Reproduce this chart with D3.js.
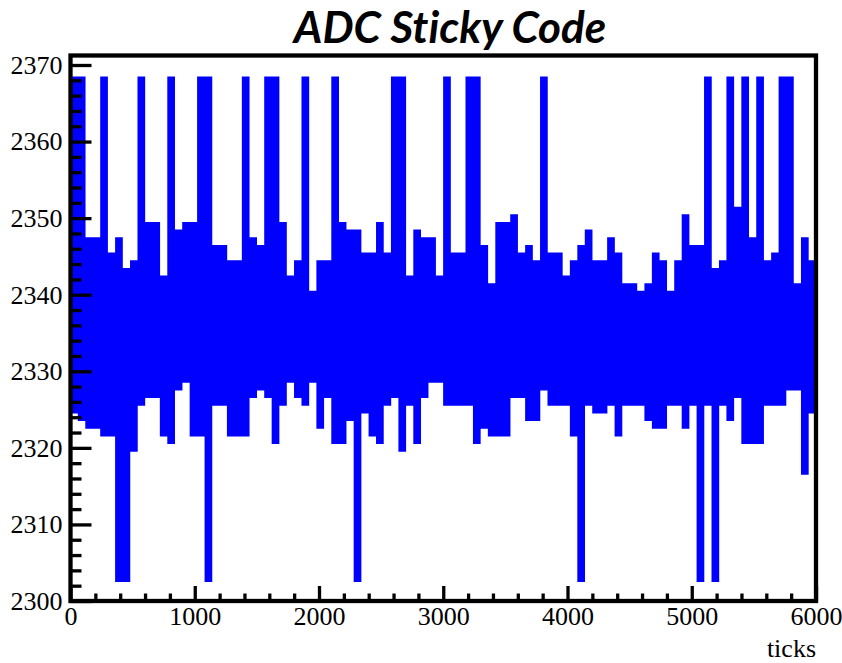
<!DOCTYPE html>
<html>
<head>
<meta charset="utf-8">
<script src="https://cdn.jsdelivr.net/npm/d3@7"></script>
<style>
  body { margin: 0; background: #fff; }
  .axis text { font-family: "Liberation Serif", "Times New Roman", serif; font-size: 26px; fill: #000; }
  .axis line { stroke: #000; stroke-width: 3.3; }
</style>
</head>
<body>
<div id="chart"></div>
<script>
// ADC samples, read per 60-tick column: highest and lowest code seen
const firstTick = 30;
const tickStep = 60;
const hiCodes = [
  2368, 2368, 2347, 2347, 2368, 2345, 2347, 2343, 2344, 2368,
  2349, 2349, 2342, 2368, 2348, 2349, 2349, 2368, 2368, 2346,
  2346, 2344, 2344, 2368, 2347, 2346, 2368, 2368, 2349, 2342,
  2344, 2368, 2340, 2344, 2344, 2368, 2349, 2348, 2348, 2345,
  2345, 2349, 2345, 2368, 2368, 2342, 2348, 2347, 2347, 2342,
  2368, 2345, 2345, 2368, 2368, 2346, 2341, 2349, 2349, 2350,
  2345, 2346, 2344, 2368, 2345, 2345, 2342, 2344, 2346, 2348,
  2344, 2344, 2347, 2345, 2341, 2341, 2340, 2341, 2345, 2344,
  2340, 2344, 2350, 2346, 2346, 2368, 2343, 2344, 2368, 2351,
  2368, 2347, 2368, 2344, 2345, 2368, 2368, 2341, 2347, 2344
];
const loCodes = [
  2325, 2324, 2323, 2323, 2322, 2322, 2303, 2303, 2320, 2326,
  2327, 2327, 2322, 2321, 2328, 2329, 2322, 2322, 2303, 2326,
  2326, 2322, 2322, 2322, 2327, 2328, 2327, 2321, 2326, 2329,
  2327, 2326, 2329, 2323, 2327, 2321, 2321, 2324, 2303, 2325,
  2322, 2321, 2326, 2327, 2320, 2326, 2321, 2327, 2329, 2329,
  2326, 2326, 2326, 2326, 2321, 2323, 2322, 2322, 2322, 2327,
  2327, 2324, 2324, 2328, 2326, 2326, 2326, 2322, 2303, 2326,
  2325, 2325, 2326, 2322, 2326, 2326, 2326, 2324, 2323, 2323,
  2326, 2326, 2323, 2326, 2303, 2326, 2303, 2326, 2324, 2327,
  2321, 2321, 2321, 2326, 2326, 2326, 2328, 2328, 2317, 2325
];

const xTickLabels = [0, 1000, 2000, 3000, 4000, 5000, 6000];
const yTickLabels = [2300, 2310, 2320, 2330, 2340, 2350, 2360, 2370];
const titleText = "ADC Sticky Code";
const xTitle = "ticks";

const margin = { top: 55.5, right: 26, bottom: 62, left: 70.5 },
  width = 842 - margin.left - margin.right,
  height = 663 - margin.top - margin.bottom;

const svg = d3
  .select("#chart")
  .append("svg")
  .attr("width", 842)
  .attr("height", 663);

const g = svg
  .append("g")
  .attr("transform", "translate(" + margin.left + "," + margin.top + ")");

const x = d3.scaleLinear().domain([0, 6000]).range([0, width]);
const y = d3.scaleLinear().domain([2300, 2371.24]).range([height, 0]);

// one vertical stroke per column, from the low code up to the high code
const points = [];
hiCodes.forEach((h, i) => {
  const t = firstTick + i * tickStep;
  points.push({ t: t, v: h }, { t: t, v: loCodes[i] }, null);
});

const line = d3
  .line()
  .defined((d) => d !== null)
  .x((d) => x(d.t))
  .y((d) => y(d.v));

g.append("path")
  .datum(points)
  .attr("fill", "none")
  .attr("stroke", "#0000ff")
  .attr("stroke-width", 7.7)
  .attr("stroke-linecap", "square")
  .attr("d", line);

// axes, ticks pointing into the frame
const xMinor = d3.range(0, 6001, 200).filter((v) => v % 1000);
const yMinor = d3.range(2300, 2371, 2).filter((v) => v % 10);
const fmt = d3.format("d");

g.append("g")
  .attr("class", "axis")
  .attr("transform", "translate(0," + height + ")")
  .call(
    d3.axisBottom(x).tickValues(xTickLabels).tickFormat(fmt)
      .tickSizeInner(-15).tickSizeOuter(0).tickPadding(6)
  );
g.append("g")
  .attr("class", "axis")
  .attr("transform", "translate(0," + height + ")")
  .call(d3.axisBottom(x).tickValues(xMinor).tickSize(-7.5).tickFormat(""));

g.append("g")
  .attr("class", "axis")
  .call(
    d3.axisLeft(y).tickValues(yTickLabels).tickFormat(fmt)
      .tickSizeInner(-21).tickSizeOuter(0).tickPadding(8)
  );
g.append("g")
  .attr("class", "axis")
  .call(d3.axisLeft(y).tickValues(yMinor).tickSize(-11).tickFormat(""));

g.selectAll(".axis .domain").remove();

// cadre
g.append("rect")
  .attr("x", 0)
  .attr("y", 0)
  .attr("width", width)
  .attr("height", height)
  .attr("fill", "none")
  .attr("stroke", "#000")
  .attr("stroke-width", 4.3);

g.append("text")
  .attr("x", width)
  .attr("y", height + 56)
  .attr("text-anchor", "end")
  .style("font-family", '"Liberation Serif", "Times New Roman", serif')
  .style("font-size", "26px")
  .text(xTitle);

svg
  .append("text")
  .attr("x", 450)
  .attr("y", 43)
  .attr("text-anchor", "middle")
  .style("font-family", "Lato, 'Open Sans', sans-serif")
  .style("font-weight", "bold")
  .style("font-style", "italic")
  .style("font-size", "44px")
  .style("font-variant-ligatures", "none")
  .text(titleText);
</script>
</body>
</html>
